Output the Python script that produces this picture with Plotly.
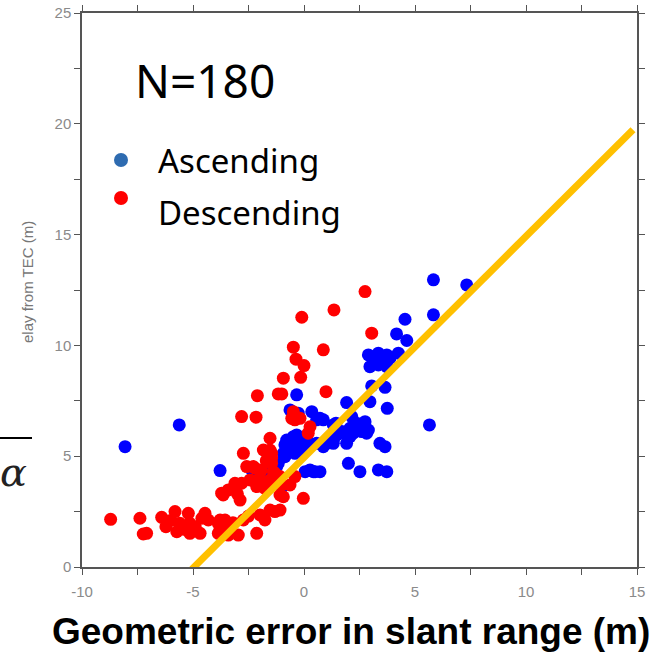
import plotly.graph_objects as go

# ---------------- data ----------------
desc_x = [-8.71, -7.39, -7.09, -7.24, -6.41, -6.22, -5.81, -5.73, -5.59, -5.21, -5.14, -5.14, -4.68,
          -4.46, -4.31, -4.9, -6.0, -5.4, -3.86, -3.78, -3.71, -3.78, -3.56, -3.33, -3.86, -3.41,
          -2.96, -2.13, -2.73, -1.98, -1.53, -1.31, -1.76, -1.08, -3.64, -3.41, -2.88, -3.11, -2.81,
          -2.43, -2.13, -1.76, -1.53, -1.08, -0.03, -1.08, -1.0, -0.93, -0.63, -0.41, -1.83, -2.28,
          -1.91, -1.38, -2.58, -2.21, -1.46, -1.31, -2.73, -1.83, -1.46, -1.53, -1.53, -1.46, 0.19,
          0.27, -2.81, -2.16, -0.48, -0.55, -0.18, -0.41, -2.1, -1.16, -1.0, -0.93, -0.15, -0.36,
          0.0, -0.48, 0.87, -0.1, 1.35, 2.75, 3.05, 0.99, -3.2, -2.5, -3.0, -2.0, -1.7, -4.6]
desc_y = [2.15, 2.2, 1.52, 1.49, 2.24, 1.82, 2.5, 1.59, 1.97, 2.42, 1.97, 1.52, 1.52,
          2.42, 2.12, 1.8, 2.1, 1.7, 1.97, 1.67, 3.33, 2.12, 2.12, 1.82, 1.52, 1.44,
          1.44, 1.52, 2.12, 2.35, 2.57, 2.5, 2.12, 2.57, 3.25, 3.48, 3.02, 3.78, 3.78,
          3.93, 3.63, 3.55, 3.93, 3.25, 3.1, 4.08, 3.7, 3.17, 3.7, 4.08, 3.78, 4.53,
          4.38, 4.3, 4.53, 4.46, 4.68, 4.23, 5.13, 5.28, 5.13, 5.28, 5.81, 4.91, 6.04,
          6.33, 6.79, 6.76, 7.01, 6.71, 6.71, 6.64, 7.73, 7.81, 7.81, 8.52, 8.56, 9.38,
          9.09, 9.92, 9.8, 11.27, 11.6, 12.43, 10.55, 7.91, 2.0, 2.3, 3.3, 4.0, 4.8, 2.2]

asc_x = [-8.06, -5.62, -3.78, -2.21, -1.83, -1.23, -1.16, -0.33, -0.63, -0.26, 0.35, 0.72, 0.87,
         0.57, -0.78, -0.48, -0.41, -0.78, -0.18, 0.12, 0.57, 0.87, -0.86, -0.33, -0.48, -0.18,
         -0.93, -0.86, -0.41, -0.78, 0.42, 0.05, 0.27, 0.72, 1.92, 3.75, 1.32, 2.37, 2.75, 2.9,
         2.22, 2.6, 1.47, 1.92, 1.32, 0.27, 0.05, 3.42, 3.65, 2.0, 2.52, 3.35, 3.73, 5.83, 7.33,
         5.83, 4.55, 4.17, 4.63, 2.9, 3.35, 3.73, 4.25, 3.87, 3.5, 3.12, 2.97, 3.35, 3.73, 3.05,
         3.65, 2.97, 2.15, 2.52, 2.07, 2.82, 1.4, 1.62, 1.32, 1.02, 5.65, 1.7, 2.07, -0.63,
         -1.0, -2.36, 0.5, 1.44]
asc_y = [5.43, 6.41, 4.35, 4.23, 4.3, 4.53, 4.68, 7.77, 7.09, 6.94, 7.01, 6.71, 6.64,
         6.64, 5.58, 5.88, 5.43, 5.13, 5.58, 5.43, 5.58, 5.43, 5.51, 5.96, 5.21, 5.21,
         5.13, 4.98, 5.13, 5.73, 4.3, 4.3, 4.38, 4.3, 7.42, 7.16, 6.41, 6.49, 6.56, 6.18,
         6.04, 6.11, 5.96, 5.58, 5.58, 5.58, 5.88, 5.58, 5.43, 4.68, 4.3, 4.38, 4.3, 12.96, 12.73,
         11.38, 11.18, 10.52, 10.22, 9.57, 9.65, 9.57, 9.65, 9.42, 9.35, 9.42, 9.04, 9.12, 9.04, 8.17,
         8.11, 7.46, 6.79, 6.41, 6.26, 6.04, 6.33, 6.04, 5.73, 5.58, 6.41, 6.11, 5.88, 5.58,
         3.6, 4.38, 4.3, 6.49]

fit_x = [-5.05, 14.82]
fit_y = [-0.1, 19.73]

tick_vals = [-10, -7.5, -5, -2.5, 0, 2.5, 5, 7.5, 10, 12.5, 15]
tick_text = ["-10", "", "-5", "", "0", "", "5", "", "10", "", "15"]
ytick_vals = [0, 2.5, 5, 7.5, 10, 12.5, 15, 17.5, 20, 22.5, 25]
ytick_text = ["0", "", "5", "", "10", "", "15", "", "20", "", "25"]

# ---------------- figure ----------------
W, H = 662, 653
L, R, T, B = 82, 25, 13, 86
pw, ph = W - L - R, H - T - B


def px(x):
    return (x - L) / pw


def py(y):
    return (H - B - y) / ph


fig = go.Figure()
fig.add_trace(go.Scatter(x=asc_x, y=asc_y, mode="markers", name="Ascending",
                         marker=dict(color="#0000FF", size=13, line=dict(width=0))))
fig.add_trace(go.Scatter(x=desc_x, y=desc_y, mode="markers", name="Descending",
                         marker=dict(color="#FF0000", size=13, line=dict(width=0))))
fig.add_trace(go.Scatter(x=fit_x, y=fit_y, mode="lines", name="fit",
                         line=dict(color="#FFC000", width=7)))

axis_common = dict(showline=True, linecolor="#555555", linewidth=1.5, mirror="ticks",
                   ticks="outside", ticklen=6, tickwidth=1.2, tickcolor="#555555",
                   showgrid=False, zeroline=False, automargin=False,
                   tickfont=dict(family="Liberation Sans, Arial, sans-serif", size=15, color="#8a8a8a"))

fig.update_xaxes(range=[-10, 15], tickvals=tick_vals, ticktext=tick_text,
                 ticklabelstandoff=4, **axis_common)
fig.update_yaxes(range=[0, 25], tickvals=ytick_vals, ticktext=ytick_text, **axis_common)

annotations = [
    dict(text="N=180", x=px(133), y=py(80), xanchor="left", yanchor="middle",
         font=dict(family="Noto Sans", size=46, color="black")),
    dict(text="Ascending", x=px(156), y=py(160), xanchor="left", yanchor="middle",
         font=dict(family="Noto Sans", size=33, color="black")),
    dict(text="Descending", x=px(156), y=py(212), xanchor="left", yanchor="middle",
         font=dict(family="Noto Sans", size=33, color="black")),
    dict(text="<b>Geometric error in slant range (m)</b>", x=px(351), y=py(631),
         xanchor="center", yanchor="middle",
         font=dict(family="Liberation Sans, Arial, sans-serif", size=37, color="black")),
    dict(text="elay from TEC (m)", x=px(27), y=py(282), xanchor="center", yanchor="middle",
         textangle=-90, font=dict(family="Liberation Sans, Arial, sans-serif", size=15, color="#777777")),
    dict(text="<i>α</i>", x=px(13), y=py(472), xanchor="center", yanchor="middle",
         font=dict(family="DejaVu Serif, serif", size=40, color="#222222")),
]
for a in annotations:
    a.update(xref="paper", yref="paper", showarrow=False)

shapes = [
    dict(type="circle", xref="paper", yref="paper",
         x0=px(114), x1=px(128), y0=py(153), y1=py(167),
         fillcolor="#2E6BB0", line=dict(width=0)),
    dict(type="circle", xref="paper", yref="paper",
         x0=px(114), x1=px(128), y0=py(191), y1=py(205),
         fillcolor="#FF0000", line=dict(width=0)),
    dict(type="line", xref="paper", yref="paper",
         x0=px(0), x1=px(32), y0=py(438), y1=py(438),
         line=dict(color="black", width=2)),
]

fig.update_layout(
    width=W, height=H,
    margin=dict(l=L, r=R, t=T, b=B, autoexpand=False),
    paper_bgcolor="white", plot_bgcolor="white",
    showlegend=False,
    annotations=annotations,
    shapes=shapes,
)

fig.write_html("out.html", config={"displayModeBar": False},
               post_script="document.body.style.margin='0';document.body.style.overflow='hidden';")
